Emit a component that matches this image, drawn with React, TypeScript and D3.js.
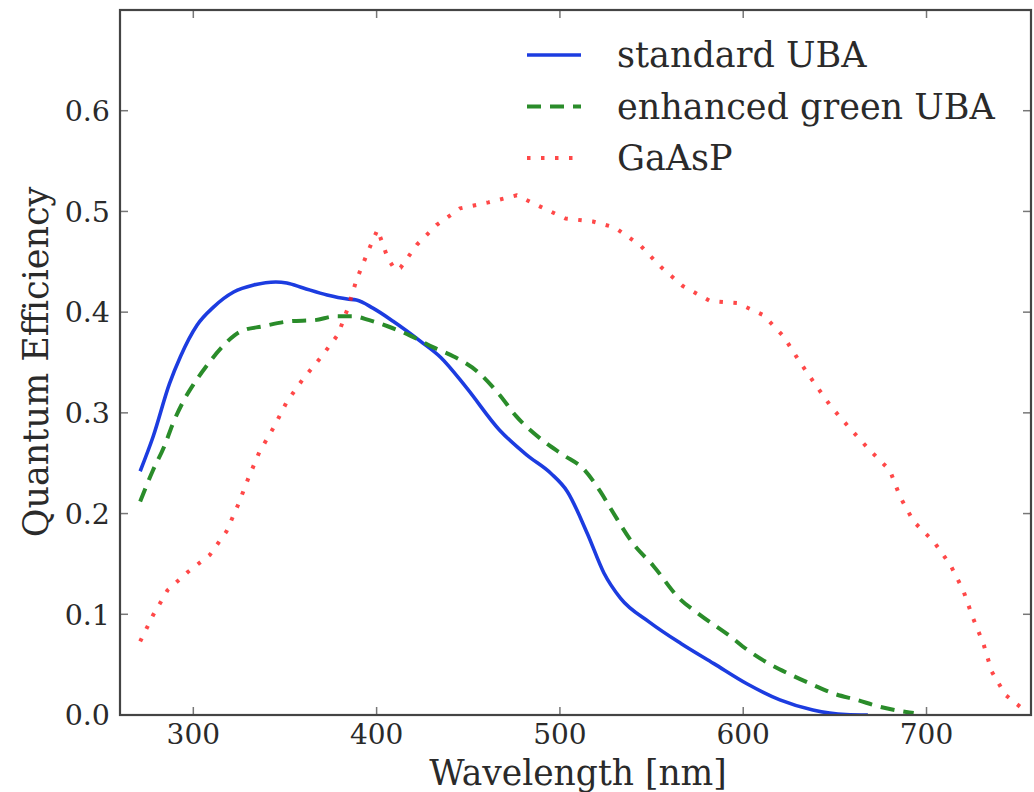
import React from "react";
import * as d3 from "d3";

// ---- data (wavelength nm, quantum efficiency) ----
const standardUBA: [number, number][] = [
  [271, 0.242], [278, 0.276], [287, 0.329], [293, 0.356], [302, 0.387], [311, 0.405],
  [322, 0.42], [333, 0.427], [345, 0.43], [351, 0.429], [360, 0.424], [373, 0.417],
  [384, 0.413], [389, 0.412], [398, 0.404], [409, 0.391], [424, 0.371], [435, 0.355],
  [449, 0.325], [467, 0.283], [482, 0.258], [495, 0.24], [504, 0.222], [515, 0.18],
  [524, 0.141], [533, 0.116], [549, 0.092], [566, 0.071], [584, 0.051], [602, 0.031],
  [620, 0.015], [638, 0.005], [656, 0.0005], [668, 0.0],
];

const enhancedGreenUBA: [number, number][] = [
  [271, 0.212], [278, 0.243], [284, 0.266], [289, 0.29], [295, 0.313], [300, 0.328],
  [307, 0.346], [315, 0.364], [326, 0.381], [338, 0.386], [353, 0.391], [366, 0.392],
  [378, 0.396], [387, 0.396], [396, 0.392], [406, 0.386], [418, 0.377], [431, 0.365],
  [442, 0.356], [455, 0.341], [467, 0.318], [476, 0.297], [491, 0.272], [502, 0.258],
  [513, 0.244], [522, 0.222], [529, 0.201], [540, 0.17], [551, 0.148], [565, 0.116],
  [576, 0.1], [593, 0.078], [602, 0.065], [614, 0.051], [626, 0.04], [638, 0.03],
  [649, 0.0215], [662, 0.015], [675, 0.008], [689, 0.003], [693, 0.002],
];

const gaAsP: [number, number][] = [
  [271, 0.073], [278, 0.099], [286, 0.124], [297, 0.142], [309, 0.159], [318, 0.182],
  [324.5, 0.209], [330, 0.235], [336, 0.261], [344, 0.286], [351, 0.311], [360, 0.334],
  [370, 0.356], [379, 0.378], [384.5, 0.405], [389, 0.432], [395, 0.459], [400.5, 0.482],
  [406, 0.454], [410, 0.442], [413, 0.444], [422, 0.467], [433, 0.487], [445.5, 0.503],
  [461, 0.509], [476.5, 0.516], [489, 0.505], [503, 0.493], [518, 0.49], [530, 0.484],
  [544, 0.466], [555, 0.445], [567, 0.426], [582, 0.411], [597, 0.409], [611, 0.397],
  [622, 0.376], [630, 0.353], [639, 0.329], [648, 0.306], [658, 0.285], [669, 0.263],
  [680, 0.243], [685.5, 0.217], [693, 0.192], [704, 0.172], [713, 0.149], [720, 0.124],
  [725, 0.098], [731, 0.071], [735.6, 0.043], [743, 0.02], [754.6, 0.003],
];

const xTicks = [300, 400, 500, 600, 700];
const yTicks = [0.0, 0.1, 0.2, 0.3, 0.4, 0.5, 0.6];
const legendLabels = ["standard UBA", "enhanced green UBA", "GaAsP"];

const FONT = "'DejaVu Serif', serif";

export default function App() {
  const W = 1034, H = 792;
  const left = 120, right = 1031, top = 10, bottom = 715;
  const x = d3.scaleLinear().domain([260, 757]).range([left, right]);
  const y = d3.scaleLinear().domain([0, 0.7]).range([bottom, top]);

  const smooth = d3.line<[number, number]>().x(d => x(d[0])).y(d => y(d[1])).curve(d3.curveMonotoneX);
  const straight = d3.line<[number, number]>().x(d => x(d[0])).y(d => y(d[1])).curve(d3.curveLinear);

  const series = [
    { label: legendLabels[0], data: standardUBA, color: "#1c3ce0", width: 3.6, dash: "none", gen: smooth, op: 1 },
    { label: legendLabels[1], data: enhancedGreenUBA, color: "#2a8c2a", width: 4, dash: "14 9", gen: smooth, op: 1 },
    { label: legendLabels[2], data: gaAsP, color: "#ff1a1a", width: 4, dash: "3.5 10.5", gen: straight, op: 0.8 },
  ];

  const tickLen = 8;
  const axisColor = "#444";
  const tickColor = "#777";
  const textColor = "#2a2a2a";

  return (
    <svg width={W} height={H} style={{ position: "absolute", left: 0, top: 0, background: "#fff" }}>
      <rect x={0} y={0} width={W} height={H} fill="#fff" />
      <defs>
        <clipPath id="plotclip">
          <rect x={left} y={top} width={right - left} height={bottom - top} />
        </clipPath>
      </defs>

      {/* data lines */}
      <g clipPath="url(#plotclip)">
        {series.map(s => (
          <path key={s.label} d={s.gen(s.data) || ""} fill="none" stroke={s.color}
            strokeWidth={s.width} strokeDasharray={s.dash} strokeOpacity={s.op}
            strokeLinejoin="round" />
        ))}
      </g>

      {/* ticks */}
      {xTicks.map(t => (
        <g key={"xt" + t}>
          <line x1={x(t)} x2={x(t)} y1={bottom} y2={bottom - tickLen} stroke={tickColor} strokeWidth={1.5} />
          <line x1={x(t)} x2={x(t)} y1={top} y2={top + tickLen} stroke={tickColor} strokeWidth={1.5} />
          <text x={x(t)} y={744} textAnchor="middle" fontFamily={FONT} fontSize={28} fill={textColor}>{t}</text>
        </g>
      ))}
      {yTicks.map(t => (
        <g key={"yt" + t}>
          <line x1={left} x2={left + tickLen} y1={y(t)} y2={y(t)} stroke={tickColor} strokeWidth={1.5} />
          <line x1={right} x2={right - tickLen} y1={y(t)} y2={y(t)} stroke={tickColor} strokeWidth={1.5} />
          <text x={110} y={y(t)} dy="0.36em" textAnchor="end" fontFamily={FONT} fontSize={28.5} fill={textColor}>{t.toFixed(1)}</text>
        </g>
      ))}

      {/* frame */}
      <rect x={left} y={top} width={right - left} height={bottom - top} fill="none" stroke={axisColor} strokeWidth={2.2} />

      {/* axis labels */}
      <text x={578} y={785} textAnchor="middle" fontFamily={FONT} fontSize={34.5} fill={textColor}>Wavelength [nm]</text>
      <text transform={`translate(48,${362}) rotate(-90)`} textAnchor="middle" fontFamily={FONT} fontSize={35} fill={textColor}>Quantum Efficiency</text>

      {/* legend */}
      {series.map((s, i) => {
        const ly = 55 + i * 51.5;
        return (
          <g key={"lg" + i}>
            <line x1={527} x2={581} y1={ly} y2={ly} stroke={s.color} strokeWidth={s.width}
              strokeDasharray={s.dash} strokeOpacity={s.op} />
            <text x={617} y={ly + 12} fontFamily={FONT} fontSize={35} fill={textColor}>{s.label}</text>
          </g>
        );
      })}
    </svg>
  );
}
